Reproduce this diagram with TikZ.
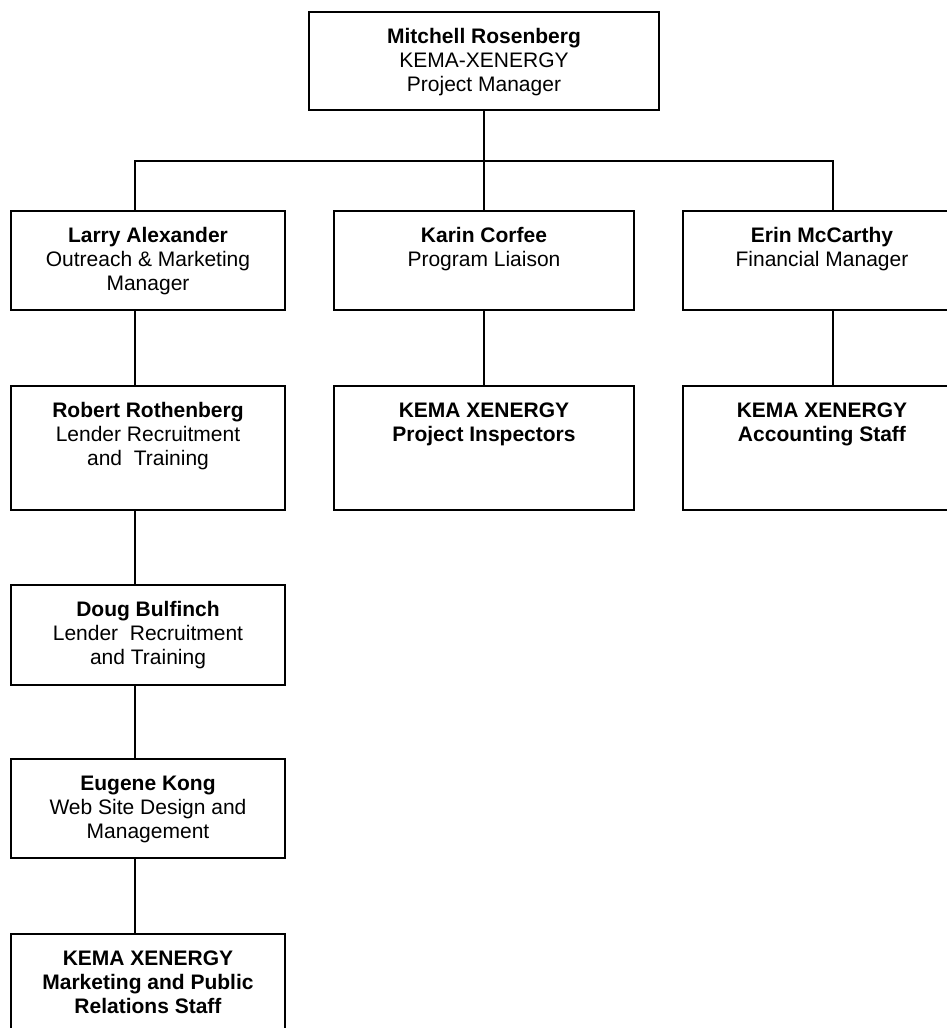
\documentclass[tikz,border=0pt]{standalone}
\usepackage{fontspec}
\setmainfont{Liberation Sans}
\newcommand{\cardtext}[3]{\parbox[c][#2][t]{#1}{\centering\fontsize{21}{24}\selectfont\rule{0pt}{31pt}#3\par}}
\begin{document}
\begin{tikzpicture}[x=1pt,y=-1pt,
  card/.style={draw, line width=1.5pt, inner sep=0pt, outer sep=0pt},
  link/.style={line width=1.5pt}]
\useasboundingbox (0,0) rectangle (947,1028);
\clip (0,0) rectangle (947,1028);
% boxes
\node[card] (top) at (484,61) {\cardtext{350pt}{98pt}{\textbf{Mitchell Rosenberg}\\KEMA-XENERGY\\Project Manager}};
\node[card] (larry) at (148,260.5) {\cardtext{274pt}{99pt}{\textbf{Larry Alexander}\\Outreach \& Marketing\\Manager}};
\node[card] (karin) at (484,260.5) {\cardtext{300pt}{99pt}{\textbf{Karin Corfee}\\Program Liaison}};
\node[card] (erin) at (822,260.5) {\cardtext{278pt}{99pt}{\textbf{Erin McCarthy}\\Financial Manager}};
\node[card] (robert) at (148,448) {\cardtext{274pt}{124pt}{\textbf{Robert Rothenberg}\\Lender Recruitment\\and~ Training}};
\node[card] (insp) at (484,448) {\cardtext{300pt}{124pt}{\textbf{KEMA XENERGY}\\\textbf{Project Inspectors}}};
\node[card] (acct) at (822,448) {\cardtext{278pt}{124pt}{\textbf{KEMA XENERGY}\\\textbf{Accounting Staff}}};
\node[card] (doug) at (148,635) {\cardtext{274pt}{100pt}{\textbf{Doug Bulfinch}\\Lender~ Recruitment\\and Training}};
\node[card] (eugene) at (148,808.5) {\cardtext{274pt}{99pt}{\textbf{Eugene Kong}\\Web Site Design and\\Management}};
\node[card] (mkt) at (148,989) {\cardtext{274pt}{110pt}{\textbf{KEMA XENERGY}\\\textbf{Marketing and Public}\\\textbf{Relations Staff}}};
% bus coordinates
\coordinate (busL) at (135,161);
\coordinate (busM) at (484,161);
\coordinate (busR) at (833,161);
% connectors
\draw[link] (top.south) -- (busM);
\draw[link] (larry.north -| busL) -- (busL) -- (busR) -- (erin.north -| busR);
\draw[link] (busM) -- (karin.north);
\draw[link] (larry.south -| busL) -- (robert.north -| busL);
\draw[link] (robert.south -| busL) -- (doug.north -| busL);
\draw[link] (doug.south -| busL) -- (eugene.north -| busL);
\draw[link] (eugene.south -| busL) -- (mkt.north -| busL);
\draw[link] (karin.south) -- (insp.north);
\draw[link] (erin.south -| busR) -- (acct.north -| busR);
\end{tikzpicture}
\end{document}
